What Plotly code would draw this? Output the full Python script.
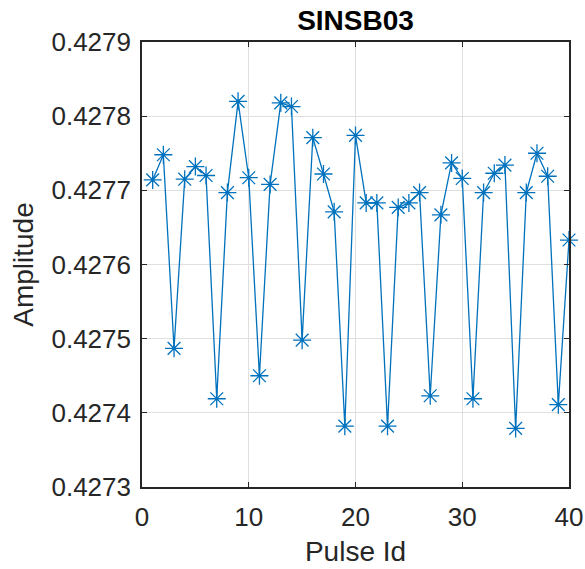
import plotly.graph_objects as go

pulse_id = list(range(1, 41))
amplitude = [
    0.427714, 0.427748, 0.427487, 0.427715, 0.427732, 0.427720, 0.427419, 0.427697,
    0.427820, 0.427717, 0.427450, 0.427708, 0.427818, 0.427813, 0.427498, 0.427771,
    0.427722, 0.427671, 0.427382, 0.427774, 0.427683, 0.427683, 0.427382, 0.427677,
    0.427683, 0.427697, 0.427423, 0.427667, 0.427737, 0.427716, 0.427419, 0.427697,
    0.427723, 0.427734, 0.427379, 0.427697, 0.427750, 0.427719, 0.427411, 0.427633,
]
x_ticks = [0, 10, 20, 30, 40]
y_ticks = [0.4273, 0.4274, 0.4275, 0.4276, 0.4277, 0.4278, 0.4279]

blue = "#0072BD"
axis_col = "#262626"
grid_col = "#dfdfdf"
font = "Liberation Sans, Arial, sans-serif"

fig = go.Figure()
fig.add_trace(go.Scatter(
    x=pulse_id, y=amplitude, mode="lines+markers",
    line=dict(color=blue, width=1.3),
    marker=dict(symbol="asterisk-open", size=15, color=blue,
                line=dict(color=blue, width=1.3)),
    showlegend=False, cliponaxis=False,
))

axis_common = dict(
    showline=True, linecolor=axis_col, linewidth=1.6, mirror="ticks",
    ticks="inside", ticklen=5, tickwidth=1.3, tickcolor=axis_col,
    showgrid=True, gridcolor=grid_col, gridwidth=1, zeroline=False,
    tickfont=dict(family=font, size=26, color=axis_col), automargin=False,
)

fig.update_layout(
    width=585, height=569,
    margin=dict(l=142, r=16, t=42, b=82),
    paper_bgcolor="white", plot_bgcolor="white",
    title=dict(text="<b>SINSB03</b>", x=(142 + 569) / 2 / 585, xanchor="center",
               y=1 - 20 / 569, yanchor="middle",
               font=dict(family=font, size=28, color="black")),
    xaxis=dict(range=[0, 40], tickvals=x_ticks, ticktext=[str(v) for v in x_ticks],
               ticklabelstandoff=6,
               title=dict(text="Pulse Id", font=dict(family=font, size=28, color=axis_col), standoff=10),
               **axis_common),
    yaxis=dict(range=[0.4273, 0.4279], tickvals=y_ticks, ticktext=[f"{v:.4f}" for v in y_ticks],
               ticklabelstandoff=4,
               title=dict(text="Amplitude", font=dict(family=font, size=28, color=axis_col), standoff=10),
               **axis_common),
)

fig.write_html("out.html")
